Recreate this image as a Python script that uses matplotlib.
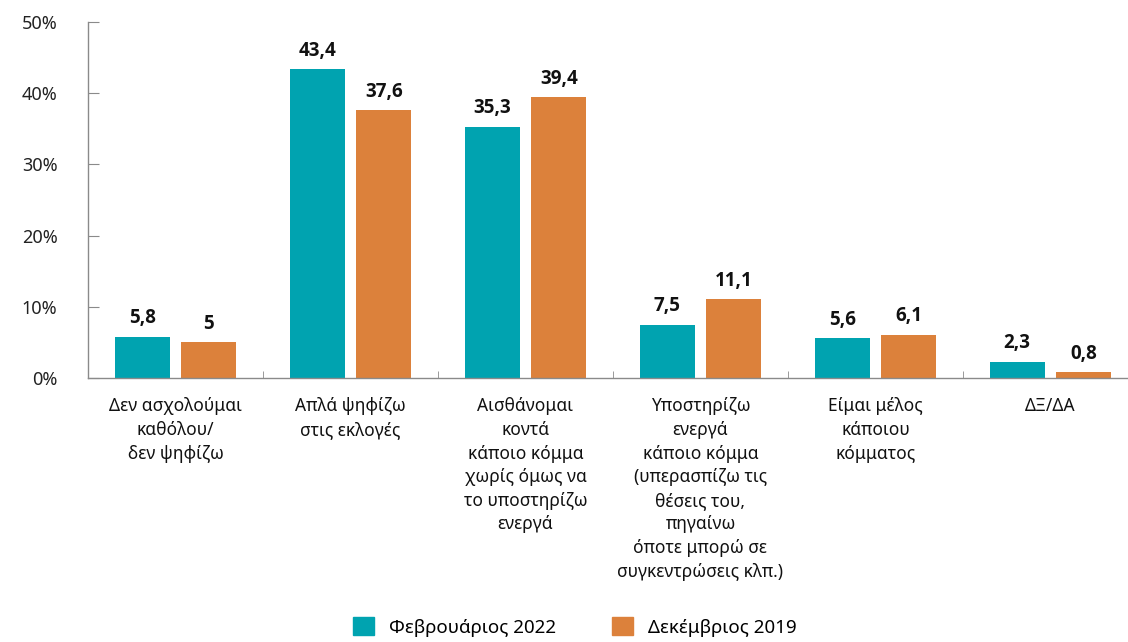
import matplotlib
matplotlib.use("Agg")
import matplotlib.pyplot as plt
from matplotlib.patches import Patch
import numpy as np

categories = [
    "Δεν ασχολούμαι\nκαθόλου/\nδεν ψηφίζω",
    "Απλά ψηφίζω\nστις εκλογές",
    "Αισθάνομαι\nκοντά\nκάποιο κόμμα\nχωρίς όμως να\nτο υποστηρίζω\nενεργά",
    "Υποστηρίζω\nενεργά\nκάποιο κόμμα\n(υπερασπίζω τις\nθέσεις του,\nπηγαίνω\nόποτε μπορώ σε\nσυγκεντρώσεις κλπ.)",
    "Είμαι μέλος\nκάποιου\nκόμματος",
    "ΔΞ/ΔΑ",
]
feb_2022 = [5.8, 43.4, 35.3, 7.5, 5.6, 2.3]
dec_2019 = [5.0, 37.6, 39.4, 11.1, 6.1, 0.8]
series_names = ["Φεβρουάριος 2022", "Δεκέμβριος 2019"]
y_ticks = [0, 10, 20, 30, 40, 50]

TEAL = "#00A3B0"
ORANGE = "#DC813B"
AXIS = "#8a8a8a"

plt.rcParams["font.family"] = ["Noto Sans", "DejaVu Sans"]

fig = plt.figure(figsize=(11.28, 6.42), dpi=100)
ax = fig.add_axes([88 / 1128, 1 - 378 / 642, 1050 / 1128, 356 / 642])

x = np.arange(len(categories))
w = 0.315
off = 0.19

def fmt(v):
    s = f"{v:.1f}".replace(".", ",")
    return s[:-2] if s.endswith(",0") else s

b1 = ax.bar(x - off, feb_2022, width=w, color=TEAL)
b2 = ax.bar(x + off, dec_2019, width=w, color=ORANGE)
for bars, vals in ((b1, feb_2022), (b2, dec_2019)):
    for rect, v in zip(bars, vals):
        ax.annotate(fmt(v), (rect.get_x() + rect.get_width() / 2, v),
                    xytext=(0, 6), textcoords="offset points",
                    ha="center", va="bottom", fontsize=13.5, fontweight="bold",
                    family=["Open Sans", "DejaVu Sans"], color="#111111")

ax.set_xlim(-0.5, len(categories) - 0.5)
ax.set_ylim(0, 50)
ax.set_yticks(y_ticks)
ax.set_yticklabels([f"{t}%" for t in y_ticks], fontsize=13, color="#222222")
ax.set_xticks(x)
ax.set_xticklabels(categories, fontsize=12.5, color="#111111", linespacing=1.4,
                   va="top")
ax.tick_params(axis="x", length=0, pad=14)
ax.set_xticks(np.arange(len(categories) + 1) - 0.5, minor=True)
ax.tick_params(axis="x", which="minor", direction="in", length=5, color=AXIS)
ax.tick_params(axis="y", direction="in", length=8, color=AXIS, pad=22)
for lbl in ax.get_yticklabels():
    lbl.set_horizontalalignment("right")

for s in ("top", "right"):
    ax.spines[s].set_visible(False)
for s in ("left", "bottom"):
    ax.spines[s].set_color(AXIS)
    ax.spines[s].set_linewidth(1.0)

handles = [Patch(color=TEAL, label=series_names[0]),
           Patch(color=ORANGE, label=series_names[1])]
fig.legend(handles=handles, loc="center", bbox_to_anchor=(575 / 1128, 1 - 627 / 642),
           ncol=2, frameon=False, fontsize=13.5, handlelength=1.1, handleheight=1.1,
           columnspacing=3.0, handletextpad=0.8)

fig.savefig("out.png", dpi=100)
